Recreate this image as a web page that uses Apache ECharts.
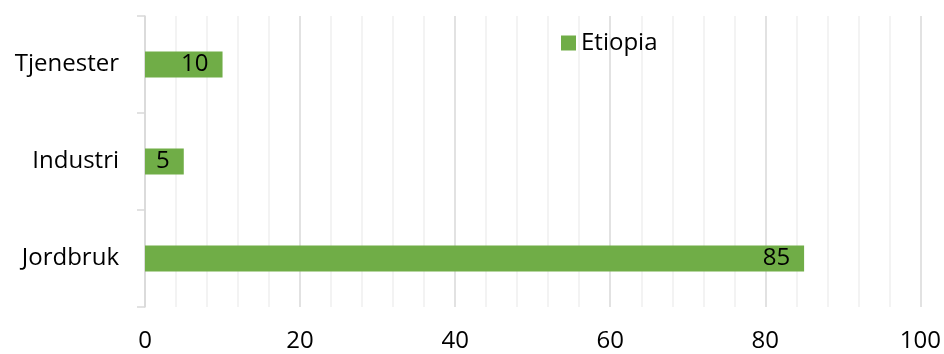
<!DOCTYPE html>
<html>
<head>
<meta charset="utf-8">
<script src="https://cdn.jsdelivr.net/npm/echarts@6/dist/echarts.min.js"></script>
<style>
  html, body { margin: 0; padding: 0; background: #fff; }
  #chart { width: 944px; height: 354px; }
</style>
</head>
<body>
<div id="chart"></div>
<script>
// kategorier og verdier (andel av sysselsatte, %)
var categories = ['Jordbruk', 'Industri', 'Tjenester'];
var etiopia = [85, 5, 10];
var seriesName = 'Etiopia';
var xTicks = [0, 20, 40, 60, 80, 100];

var font = 'Open Sans';
var fs = 24;
var chart = echarts.init(document.getElementById('chart'));

var option = {
    animation: false,
    textStyle: {fontFamily: font},
    legend: {
        data: [seriesName],
        left: 561,
        top: 31,
        padding: 0,
        icon: 'rect',
        itemWidth: 15,
        itemHeight: 15,
        itemGap: 10,
        textStyle: {fontSize: fs, color: '#000', fontFamily: font}
    },
    grid: {left: 145, right: 23, top: 16, bottom: 47},
    xAxis: {
        type: 'value',
        min: xTicks[0],
        max: xTicks[xTicks.length - 1],
        interval: 20,
        axisLine: {show: false},
        axisTick: {show: false},
        axisLabel: {fontSize: fs, color: '#000', margin: 22, fontFamily: font},
        splitLine: {show: true, lineStyle: {color: '#d9d9d9', width: 1.5}},
        minorTick: {show: false, splitNumber: 5},
        minorSplitLine: {show: true, lineStyle: {color: '#f0f0f0', width: 1.5}}
    },
    yAxis: {
        type: 'category',
        data: categories,
        axisLine: {show: true, lineStyle: {color: '#d9d9d9', width: 1.5}},
        axisTick: {show: true, length: 8, lineStyle: {color: '#d9d9d9', width: 1.5}},
        axisLabel: {fontSize: fs, color: '#000', margin: 26, fontFamily: font}
    },
    series: [{
        name: seriesName,
        type: 'bar',
        data: etiopia,
        barWidth: 26,
        itemStyle: {color: '#70ad47'},
        label: {
            show: true,
            position: 'insideRight',
            distance: 14,
            fontSize: fs,
            color: '#000',
            fontFamily: font
        }
    }]
};
chart.setOption(option);
</script>
</body>
</html>
